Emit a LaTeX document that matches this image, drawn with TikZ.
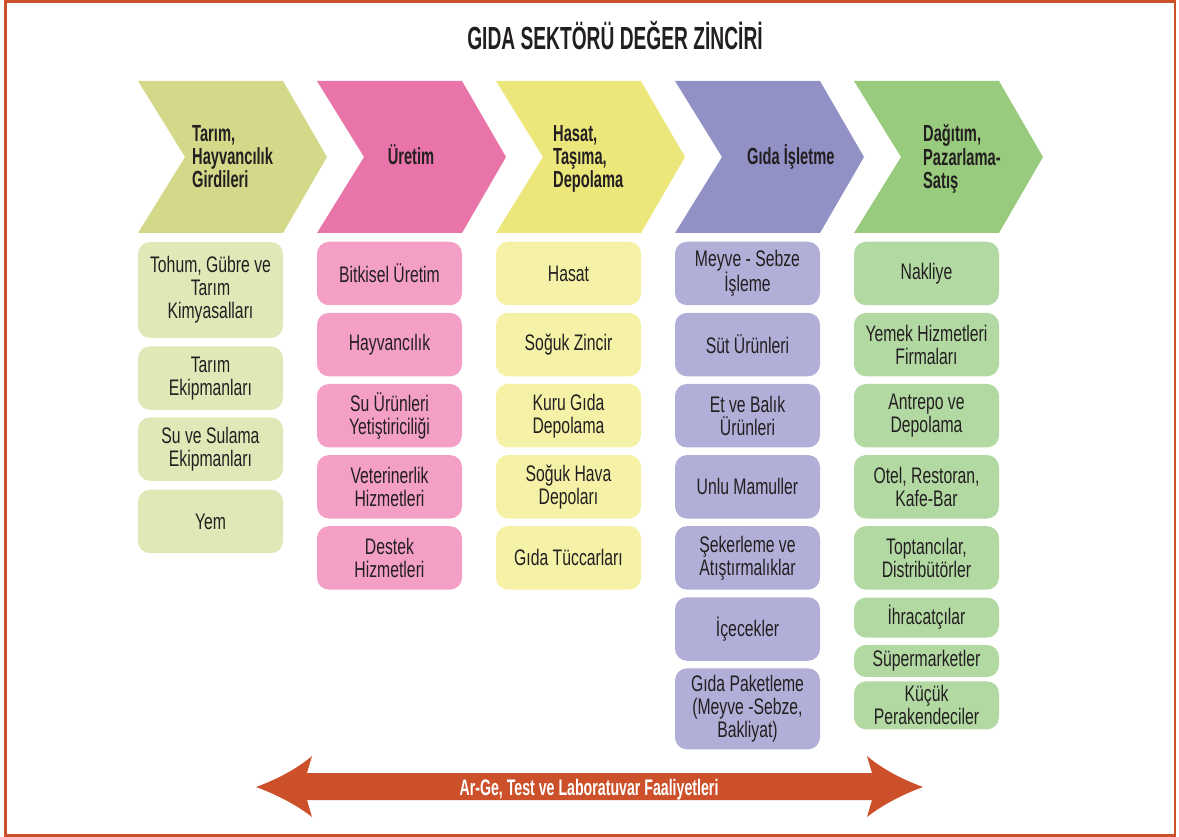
\documentclass[tikz,border=0pt]{standalone}
\usepackage{fontspec}
\setmainfont{Liberation Sans}
\newfontfamily\boxfont[FakeStretch=0.70]{Liberation Sans}
\newfontfamily\headfont[FakeStretch=0.63]{Liberation Sans}
\newfontfamily\titlefont[FakeStretch=0.60]{Liberation Sans}
\usetikzlibrary{positioning}

\definecolor{ink}{HTML}{231F20}
\definecolor{arge}{HTML}{CC5029}
\definecolor{chevA}{HTML}{D4D98A}
\definecolor{chevB}{HTML}{E874A9}
\definecolor{chevC}{HTML}{ECE77B}
\definecolor{chevD}{HTML}{9191C5}
\definecolor{chevE}{HTML}{98CB7D}
\definecolor{boxA}{HTML}{E1E8B8}
\definecolor{boxB}{HTML}{F4A0C6}
\definecolor{boxC}{HTML}{F5F2A8}
\definecolor{boxD}{HTML}{B1AED8}
\definecolor{boxE}{HTML}{B3D9A3}

\begin{document}
\begin{tikzpicture}[
        x=1pt, y=-1pt,
        itembox/.style={rectangle, rounded corners=12pt, minimum width=145pt, minimum height=63.5pt, inner sep=2pt, align=center, text=ink, font=\boxfont\fontsize{22.5}{23}\selectfont},
        headtext/.style={inner sep=0pt, align=left, text=ink, font=\headfont\bfseries\fontsize{23.3}{23.3}\selectfont},
        titletext/.style={inner sep=0pt, text=ink, font=\titlefont\bfseries\fontsize{32}{34}\selectfont},
        argetext/.style={inner sep=0pt, text=white, font=\headfont\bfseries\fontsize{22.5}{23}\selectfont}
    ]
        \useasboundingbox (0,0) rectangle (1179,837);

        % Frame and title
        \draw[arge, line width=2.5pt] (5.5,1.5) rectangle (1175,835.5);
        \node[titletext, anchor=base] (title) at (615,50) {GIDA SEKTÖRÜ DEĞER ZİNCİRİ};

        % Chevrons
        \fill[chevA] (138,81) -- (283,81) -- (327,157) -- (283,233) -- (138,233) -- (185,157) -- cycle;
        \fill[chevB] (317,81) -- (462,81) -- (506,157) -- (462,233) -- (317,233) -- (364,157) -- cycle;
        \fill[chevC] (496,81) -- (641,81) -- (685,157) -- (641,233) -- (496,233) -- (543,157) -- cycle;
        \fill[chevD] (675,81) -- (820,81) -- (864,157) -- (820,233) -- (675,233) -- (722,157) -- cycle;
        \fill[chevE] (854,81) -- (999,81) -- (1043,157) -- (999,233) -- (854,233) -- (901,157) -- cycle;

        \node[headtext, anchor=west] (h1) at (192,156.7) {Tarım,\\Hayvancılık\\Girdileri};
        \node[headtext, anchor=base] (h2) at (411,165) {Üretim};
        \node[headtext, anchor=west] (h3) at (553,159) {Hasat,\\Taşıma,\\Depolama};
        \node[headtext, anchor=base west] (h4) at (747,165) {Gıda İşletme};
        \node[headtext, anchor=west] (h5) at (923,159) {Dağıtım,\\Pazarlama-\\Satış};

        % Tarım girdileri
        \node[itembox, fill=boxA, minimum height=96pt] (a1) at (210.5,290) {Tohum, Gübre ve\\Tarım\\Kimyasalları};
        \node[itembox, fill=boxA, below=8pt of a1] (a2) {Tarım\\Ekipmanları};
        \node[itembox, fill=boxA, below=7pt of a2] (a3) {Su ve Sulama\\Ekipmanları};
        \node[itembox, fill=boxA, below=8.5pt of a3] (a4) {Yem};

        % Üretim
        \node[itembox, fill=boxB] (b1) at (389.5,273.5) {Bitkisel Üretim};
        \node[itembox, fill=boxB, below=7.2pt of b1] (b2) {Hayvancılık};
        \node[itembox, fill=boxB, below=7.2pt of b2] (b3) {Su Ürünleri\\Yetiştiriciliği};
        \node[itembox, fill=boxB, below=7.2pt of b3] (b4) {Veterinerlik\\Hizmetleri};
        \node[itembox, fill=boxB, below=7.2pt of b4] (b5) {Destek\\Hizmetleri};

        % Hasat, taşıma, depolama
        \node[itembox, fill=boxC] (c1) at (568.5,273.5) {Hasat};
        \node[itembox, fill=boxC, below=7.2pt of c1] (c2) {Soğuk Zincir};
        \node[itembox, fill=boxC, below=7.2pt of c2] (c3) {Kuru Gıda\\Depolama};
        \node[itembox, fill=boxC, below=7.2pt of c3] (c4) {Soğuk Hava\\Depoları};
        \node[itembox, fill=boxC, below=7.2pt of c4] (c5) {Gıda Tüccarları};

        % Gıda işleme
        \node[itembox, fill=boxD] (d1) at (747.5,273.5) {Meyve - Sebze\\İşleme};
        \node[itembox, fill=boxD, below=7.2pt of d1] (d2) {Süt Ürünleri};
        \node[itembox, fill=boxD, below=7.2pt of d2] (d3) {Et ve Balık\\Ürünleri};
        \node[itembox, fill=boxD, below=7.2pt of d3] (d4) {Unlu Mamuller};
        \node[itembox, fill=boxD, below=7.2pt of d4] (d5) {Şekerleme ve\\Atıştırmalıklar};
        \node[itembox, fill=boxD, below=7.2pt of d5] (d6) {İçecekler};
        \node[itembox, fill=boxD, below=7.2pt of d6, minimum height=81pt] (d7) {Gıda Paketleme\\(Meyve -Sebze,\\Bakliyat)};

        % Dağıtım, pazarlama
        \node[itembox, fill=boxE] (e1) at (926.5,273.5) {Nakliye};
        \node[itembox, fill=boxE, below=7.2pt of e1] (e2) {Yemek Hizmetleri\\Firmaları};
        \node[itembox, fill=boxE, below=7.2pt of e2] (e3) {Antrepo ve\\Depolama};
        \node[itembox, fill=boxE, below=7.2pt of e3] (e4) {Otel, Restoran,\\Kafe-Bar};
        \node[itembox, fill=boxE, below=7.2pt of e4] (e5) {Toptancılar,\\Distribütörler};
        \node[itembox, fill=boxE, below=7.5pt of e5, minimum height=40pt] (e6) {İhracatçılar};
        \node[itembox, fill=boxE, below=7pt of e6, minimum height=32pt] (e7) {Süpermarketler};
        \node[itembox, fill=boxE, below=4pt of e7, minimum height=48pt] (e8) {Küçük\\Perakendeciler};

        % Ar-Ge arrow
        \fill[arge] (256,787) .. controls (278,779) and (298,768) .. (312,756) -- (307,773) -- (872,773)
            -- (867,756) .. controls (881,768) and (901,779) .. (923,787)
            .. controls (901,795) and (881,806) .. (867,817) -- (872,800) -- (307,800)
            -- (312,817) .. controls (298,806) and (278,795) .. (256,787) -- cycle;
        \node[argetext, anchor=base] (arge) at (589,795) {Ar-Ge, Test ve Laboratuvar Faaliyetleri};
    \end{tikzpicture}
\end{document}
